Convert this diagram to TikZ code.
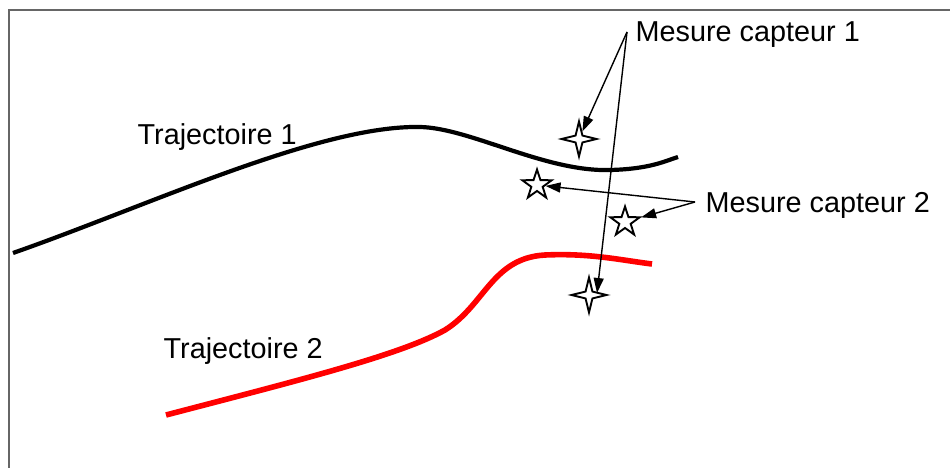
\documentclass[tikz,border=0pt]{standalone}
\usepackage{fontspec}
\setmainfont{Liberation Sans}
\usetikzlibrary{shapes.geometric,arrows.meta,calc}
\begin{document}
\begin{tikzpicture}[x=1pt,y=-1pt,line width=1.4pt,every node/.style={font=\fontsize{28.8}{34}\selectfont,inner sep=0pt},
  etoilequatre/.style={draw,star,star points=4,star point ratio=3.6,minimum size=35pt,fill=white,line width=1.9pt},
  etoilecinq/.style={draw,star,star points=5,star point ratio=2.6,minimum size=31pt,fill=white,line width=1.9pt},
  legende/.style={anchor=west,inner xsep=8pt,text depth=0pt},
  fleche/.style={-{Triangle[length=15pt,width=10pt]},line width=1.4pt}]
\useasboundingbox (0,0) rectangle (950,468);
\draw[gray!80!black,line width=1.5pt] (950,10) -- (9,10) -- (9,468);
\draw[line width=4.2pt] (13,253) .. controls (150,205) and (320,125) .. (420,127) .. controls (470,128) and (545,172) .. (610,170) .. controls (650,169) and (665,161) .. (678,157);
\draw[red,line width=5.6pt] (166,415) .. controls (300,380) and (400,355) .. (445,330) .. controls (485,305) and (492,258) .. (545,255) .. controls (590,253) and (620,260) .. (652,264);
\node[anchor=base west] (traj1) at (137,145) {Trajectoire 1};
\node[anchor=base west] (traj2) at (163,358) {Trajectoire 2};
\node[etoilequatre] (c1a) at (579,139) {};
\node[etoilequatre] (c1b) at (589,295) {};
\node[etoilecinq] (c2a) at (537,185) {};
\node[etoilecinq] (c2b) at (625,222) {};
\node[legende] (cap1) at (627,32) {Mesure capteur 1};
\node[legende,inner xsep=10pt] (cap2) at (695,202) {Mesure capteur 2};
\draw[fleche] (cap1.west) -- (c1a);
\draw[fleche] (cap1.west) -- ($(c1b.center)+(8,-2)$);
\draw[fleche] (cap2.west) -- (c2a);
\draw[fleche] (cap2.west) -- (c2b);
\end{tikzpicture}
\end{document}
